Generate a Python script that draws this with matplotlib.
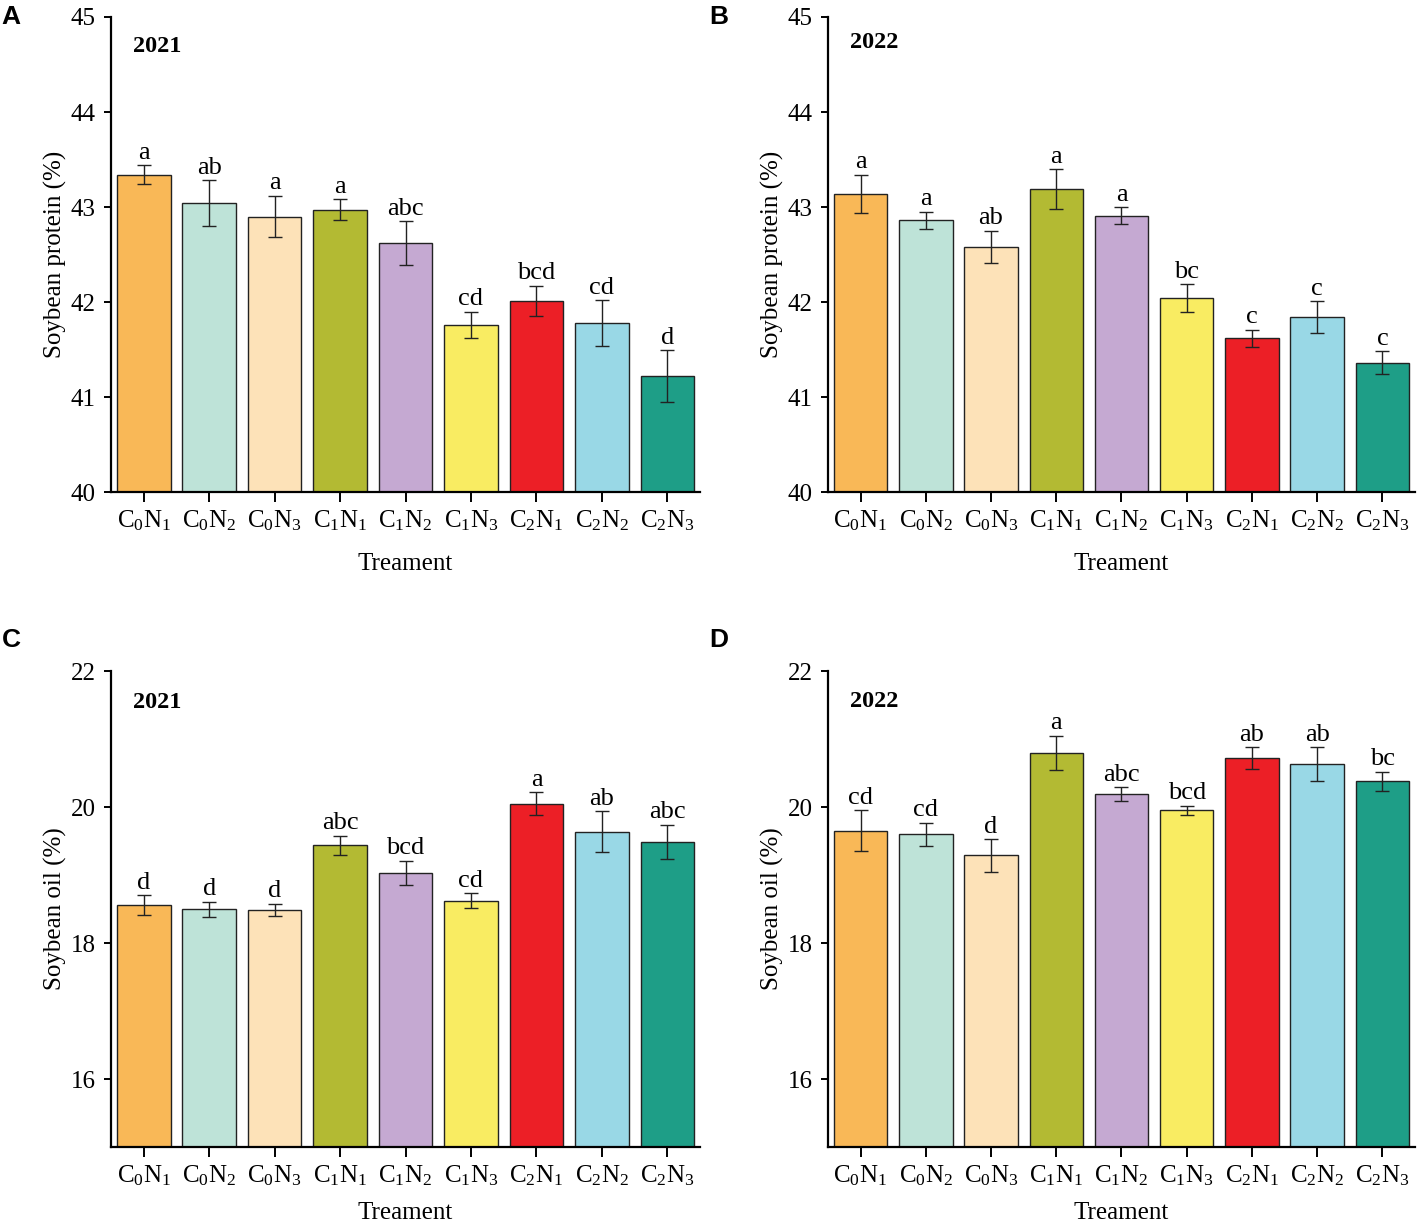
import matplotlib
matplotlib.use("Agg")
import matplotlib.pyplot as plt
import numpy as np

plt.rcParams['font.family'] = ['Liberation Serif', 'DejaVu Serif']
plt.rcParams['mathtext.fontset'] = 'custom'
plt.rcParams['mathtext.rm'] = 'Liberation Serif'
plt.rcParams['mathtext.it'] = 'Liberation Serif:italic'
plt.rcParams['mathtext.bf'] = 'Liberation Serif:bold'

treatments = ["C$_0$N$_1$", "C$_0$N$_2$", "C$_0$N$_3$", "C$_1$N$_1$", "C$_1$N$_2$",
              "C$_1$N$_3$", "C$_2$N$_1$", "C$_2$N$_2$", "C$_2$N$_3$"]
colors = ["#F9B857", "#BEE3D8", "#FDE2B8", "#B3BA33", "#C5A9D2",
          "#F9EC62", "#EC1F26", "#99D8E6", "#1E9E87"]

protein_2021 = [43.34, 43.04, 42.90, 42.97, 42.62, 41.76, 42.01, 41.78, 41.22]
protein_2021_err = [0.10, 0.24, 0.22, 0.11, 0.23, 0.14, 0.16, 0.24, 0.27]
protein_2021_sig = ["a", "ab", "a", "a", "abc", "cd", "bcd", "cd", "d"]

protein_2022 = [43.14, 42.86, 42.58, 43.19, 42.91, 42.04, 41.62, 41.84, 41.36]
protein_2022_err = [0.20, 0.09, 0.17, 0.21, 0.09, 0.15, 0.09, 0.17, 0.12]
protein_2022_sig = ["a", "a", "ab", "a", "a", "bc", "c", "c", "c"]

oil_2021 = [18.56, 18.50, 18.49, 19.44, 19.03, 18.62, 20.05, 19.64, 19.49]
oil_2021_err = [0.145, 0.11, 0.09, 0.14, 0.18, 0.11, 0.17, 0.30, 0.25]
oil_2021_sig = ["d", "d", "d", "abc", "bcd", "cd", "a", "ab", "abc"]

oil_2022 = [19.655, 19.60, 19.29, 20.80, 20.19, 19.95, 20.72, 20.63, 20.38]
oil_2022_err = [0.30, 0.17, 0.24, 0.25, 0.10, 0.07, 0.16, 0.25, 0.14]
oil_2022_sig = ["cd", "cd", "d", "a", "abc", "bcd", "ab", "ab", "bc"]

fig = plt.figure(figsize=(14.18, 12.23), dpi=100)

panels = [
    ("A", "2021", protein_2021, protein_2021_err, protein_2021_sig, "Soybean protein (%)",
     (40, 45), [40, 41, 42, 43, 44, 45], [0.0783, 0.5977, 0.4154, 0.3884], 0.937, 14),
    ("B", "2022", protein_2022, protein_2022_err, protein_2022_sig, "Soybean protein (%)",
     (40, 45), [40, 41, 42, 43, 44, 45], [0.5839, 0.5977, 0.4140, 0.3884], 0.947, 14),
    ("C", "2021", oil_2021, oil_2021_err, oil_2021_sig, "Soybean oil (%)",
     (15, 22), [16, 18, 20, 22], [0.0783, 0.0621, 0.4154, 0.3892], 0.933, 10),
    ("D", "2022", oil_2022, oil_2022_err, oil_2022_sig, "Soybean oil (%)",
     (15, 22), [16, 18, 20, 22], [0.5839, 0.0621, 0.4140, 0.3892], 0.937, 10),
]

x = np.arange(len(treatments))
for letter, year, vals, errs, sigs, ylabel, ylim, yticks, pos, yy, xpad in panels:
    ax = fig.add_axes(pos)
    ax.bar(x, vals, width=0.82, color=colors, edgecolor="#222222", linewidth=1.0, zorder=2)
    ax.errorbar(x, vals, yerr=errs, fmt="none", ecolor="#222222", elinewidth=1.0,
                capsize=5, capthick=1.0, zorder=3)
    for xi, v, e, s in zip(x, vals, errs, sigs):
        ax.annotate(s, (xi, v + e), xytext=(0, 1), textcoords="offset points",
                    ha="center", va="bottom", fontsize=19)
    ax.set_xlim(-0.5, 8.5)
    ax.set_ylim(*ylim)
    ax.set_yticks(yticks)
    ax.set_xticks(x)
    ax.set_xticklabels(treatments)
    for sp in ["top", "right"]:
        ax.spines[sp].set_visible(False)
    for sp in ["left", "bottom"]:
        ax.spines[sp].set_linewidth(1.6)
    ax.tick_params(axis="y", direction="out", length=5, width=1.4, labelsize=18, pad=6)
    ax.tick_params(axis="x", direction="out", length=7, width=1.4, labelsize=18, pad=5)
    ax.set_ylabel(ylabel, fontsize=18, labelpad=3)
    ax.set_xlabel("Treament", fontsize=18, labelpad=xpad)
    ax.text(0.037, yy, year, transform=ax.transAxes, fontsize=17.5, fontweight="bold",
            ha="left", va="center")

fig.text(0.001, 0.986, "A", fontsize=19, fontweight="bold", family="Liberation Sans", va="center")
fig.text(0.5, 0.986, "B", fontsize=19, fontweight="bold", family="Liberation Sans", va="center")
fig.text(0.001, 0.477, "C", fontsize=19, fontweight="bold", family="Liberation Sans", va="center")
fig.text(0.5, 0.477, "D", fontsize=19, fontweight="bold", family="Liberation Sans", va="center")

fig.savefig("out.png", dpi=100)
